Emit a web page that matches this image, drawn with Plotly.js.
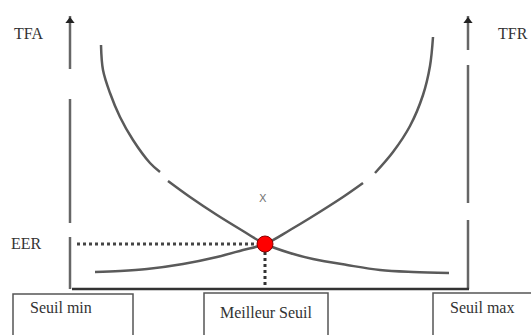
<!DOCTYPE html>
<html>
<head>
<meta charset="utf-8">
<script src="https://cdn.plot.ly/plotly-3.0.1.min.js"></script>
<style>
  html, body { margin: 0; padding: 0; background: #fff; }
  #chart { width: 531px; height: 335px; }
</style>
</head>
<body>
<div id="chart"></div>
<script>
// Data (x = threshold, y = rate; origin at the axes corner)
const TFA_X = [31, 33, 40, 50, 63, 80, 90, null, 98, 120, 147, 173, 195, 220, 243, 277, 310, 343, 379];
const TFA_Y = [244, 219, 196, 172, 149, 126, 117, null, 108, 92, 74, 58, 45, 36, 30, 24, 19, 17, 16];

const TFR_X = [25, 50, 77, 113, 147, 173, 195, 220, 240, 273, 293, null, 305, 323, 340, 353, 360, 363];
const TFR_Y = [17, 18, 20, 25, 32, 39, 45, 59, 71, 92, 106, null, 116, 137, 163, 194, 223, 252];

const BEST_X = 195;   // Meilleur Seuil
const EER_Y = 45;     // EER
const LEFT_AXIS_Y = [273, 220, null, 190, 66, null, 52, 0];
const RIGHT_AXIS_Y = [273, 239, null, 224, 86, null, 69, 0];
const AXIS_TOP = 268;
const X_MIN = 2, X_MAX = 399, RIGHT_X = 398;

const CURVE = { color: '#5a5a5a', width: 2.5, shape: 'spline', smoothing: 1 };
const SERIF = 'Liberation Serif, Times New Roman, serif';

const traces = [
   { x: LEFT_AXIS_Y.map(v => v === null ? null : 0), y: LEFT_AXIS_Y, mode: 'lines',
     line: { color: '#666', width: 2.5 }, connectgaps: false },
   { x: RIGHT_AXIS_Y.map(v => v === null ? null : RIGHT_X), y: RIGHT_AXIS_Y, mode: 'lines',
     line: { color: '#666', width: 2.5 }, connectgaps: false },
   { x: [X_MIN, X_MAX], y: [0, 0], mode: 'lines', line: { color: '#333', width: 2.5 } },
   { x: [0, RIGHT_X], y: [AXIS_TOP, AXIS_TOP], mode: 'markers',
     marker: { symbol: 'triangle-up', size: 8, color: '#222' } },
   { x: [7, BEST_X - 7], y: [EER_Y, EER_Y], mode: 'lines',
     line: { color: '#444', width: 3, dash: 'dot' } },
   { x: [BEST_X, BEST_X], y: [EER_Y - 8, 0], mode: 'lines',
     line: { color: '#333', width: 3, dash: 'dot' } },
   { name: 'TFA', x: TFA_X, y: TFA_Y, mode: 'lines', line: CURVE, connectgaps: false },
   { name: 'TFR', x: TFR_X, y: TFR_Y, mode: 'lines', line: CURVE, connectgaps: false },
   { x: [BEST_X], y: [EER_Y], mode: 'markers',
     marker: { size: 16, color: '#ff0000', line: { color: '#8a0000', width: 1 } } },
];

const txt = (text, x, y, xanchor, opts) => Object.assign({
   text, x, y, xref: 'x', yref: 'y', showarrow: false, xanchor, yanchor: 'middle',
   font: { family: SERIF, size: 16, color: '#333' }
}, opts || {});

const box = (x0, x1, y0) => ({
   type: 'rect', xref: 'x', yref: 'y', x0, x1, y0, y1: -60,
   line: { color: '#555', width: 1.5 }, fillcolor: 'rgba(0,0,0,0)'
});

const layout = {
   width: 531, height: 335,
   margin: { t: 0, r: 0, b: 0, l: 0 },
   paper_bgcolor: '#fff', plot_bgcolor: '#fff',
   showlegend: false,
   xaxis: { range: [-70, 461], visible: false, fixedrange: true },
   yaxis: { range: [-46, 289], visible: false, fixedrange: true },
   shapes: [box(-57, 63, -5), box(134, 258, -4), box(363, 480, -4)],
   annotations: [
      txt('TFA', -42, 256, 'center'),
      txt('TFR', 443, 256, 'center'),
      txt('EER', -44, 46, 'center'),
      txt('X', 193, 91, 'center', { font: { family: 'DejaVu Sans, sans-serif', size: 11, color: '#777' } }),
      txt('Seuil min', -42, -18, 'left'),
      txt('Meilleur Seuil', 196, -23, 'center'),
      txt('Seuil max', 378, -18, 'left'),
   ],
};

Plotly.newPlot(document.getElementById('chart'), traces, layout, { displayModeBar: false, staticPlot: true });
</script>
</body>
</html>
